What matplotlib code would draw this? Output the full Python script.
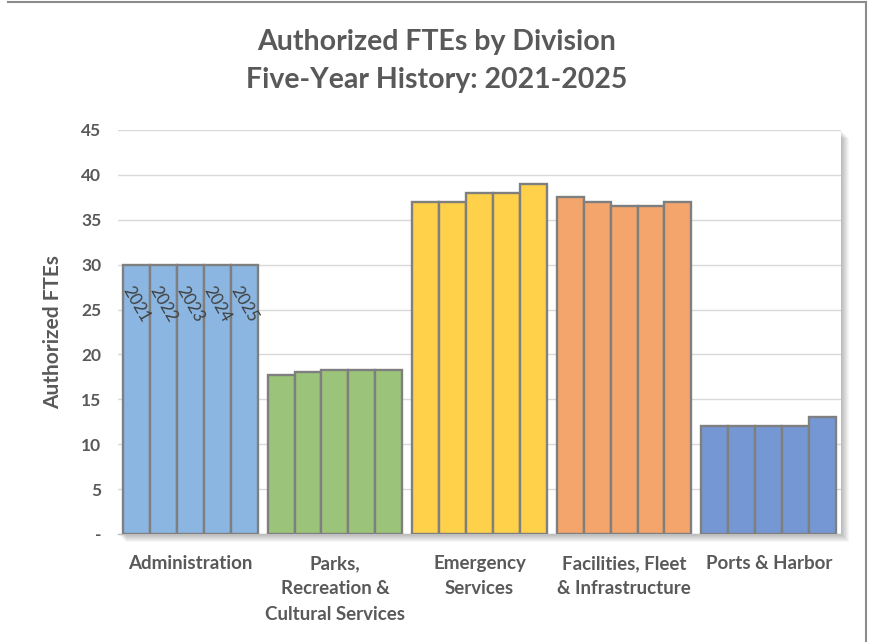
import numpy as np
import matplotlib.pyplot as plt
from matplotlib.patches import Rectangle
from matplotlib.lines import Line2D

plt.rcParams['font.family'] = ['Lato', 'DejaVu Sans']

divisions = ['Administration', 'Parks,\nRecreation &\nCultural Services', 'Emergency\nServices',
             'Facilities, Fleet\n& Infrastructure', 'Ports & Harbor']
years = ['2021', '2022', '2023', '2024', '2025']
ftes = [
    [30, 30, 30, 30, 30],
    [17.75, 18, 18.25, 18.25, 18.25],
    [37, 37, 38, 38, 39],
    [37.5, 37, 36.5, 36.5, 37],
    [12, 12, 12, 12, 13],
]
colors = ['#8ab6e1', '#9bc47a', '#ffd04a', '#f3a56c', '#7598d5']

W, H = 871, 642
fig = plt.figure(figsize=(W / 100, H / 100), dpi=100)

# plot area in pixels
left, right, top, bottom = 118, 841, 130, 534
axpos = [left / W, 1 - bottom / H, (right - left) / W, (bottom - top) / H]

# soft drop shadow behind the plot area
for i in range(8):
    off = 1 + i
    fig.patches.append(Rectangle(((left + off) / W, 1 - (bottom + off) / H),
                                 (right - left) / W, (bottom - top) / H,
                                 transform=fig.transFigure, facecolor='#000000',
                                 alpha=0.035, edgecolor='none', zorder=0))

ax = fig.add_axes(axpos, zorder=1)
ax.set_facecolor('white')

n = len(years)
group = 0.93
bw = group / n
x = np.arange(len(divisions))
for d, vals in enumerate(ftes):
    for k, v in enumerate(vals):
        xpos = x[d] - group / 2 + bw * (k + 0.5)
        ax.bar(xpos, v, width=bw, color=colors[d], edgecolor='#7f7f7f',
               linewidth=1.7, zorder=3)

# year labels inside the first group
for k, yr in enumerate(years):
    xpos = x[0] - group / 2 + bw * (k + 0.5)
    ax.text(xpos, 25.6, yr, rotation=-60, ha='center', va='center',
            fontsize=12, color='#404040', zorder=4, rotation_mode='anchor')

ax.set_xlim(-0.5, len(divisions) - 0.5)
ax.set_ylim(0, 45)
yt = np.arange(0, 46, 5)
ax.set_yticks(yt)
ax.set_yticklabels(['-'] + [str(v) for v in yt[1:]])
ax.set_xticks(x)
ax.set_xticklabels(divisions, linespacing=1.6)
ax.tick_params(axis='y', length=0, pad=12, labelsize=12.5, labelcolor='#595959')
ax.tick_params(axis='x', length=0, pad=15, labelsize=13.5, labelcolor='#595959')
for lab in ax.get_yticklabels() + ax.get_xticklabels():
    lab.set_fontweight('bold')

ax.grid(axis='y', color='#d9d9d9', linewidth=1, zorder=0)
ax.set_axisbelow(True)
for s in ['left', 'right', 'top']:
    ax.spines[s].set_visible(False)
ax.spines['bottom'].set_color('#bfbfbf')
ax.spines['bottom'].set_linewidth(1)

ax.set_ylabel('Authorized FTEs', fontsize=15, fontweight='bold', color='#595959', labelpad=13)

fig.text(437 / W, 1 - 42 / H, 'Authorized FTEs by Division', ha='center', va='center',
         fontsize=20.5, fontweight='bold', color='#595959')
fig.text(437 / W, 1 - 80 / H, 'Five-Year History: 2021-2025', ha='center', va='center',
         fontsize=20.5, fontweight='bold', color='#595959')

# chart border
fig.lines.append(Line2D([8 / W, 866 / W], [1 - 1.5 / H, 1 - 1.5 / H], transform=fig.transFigure,
                        color='#8c8c8c', linewidth=1.5))
fig.lines.append(Line2D([866 / W, 866 / W], [1 - 1.5 / H, 0], transform=fig.transFigure,
                        color='#8c8c8c', linewidth=1.5))

fig.savefig('out.png', dpi=100, facecolor='white')
